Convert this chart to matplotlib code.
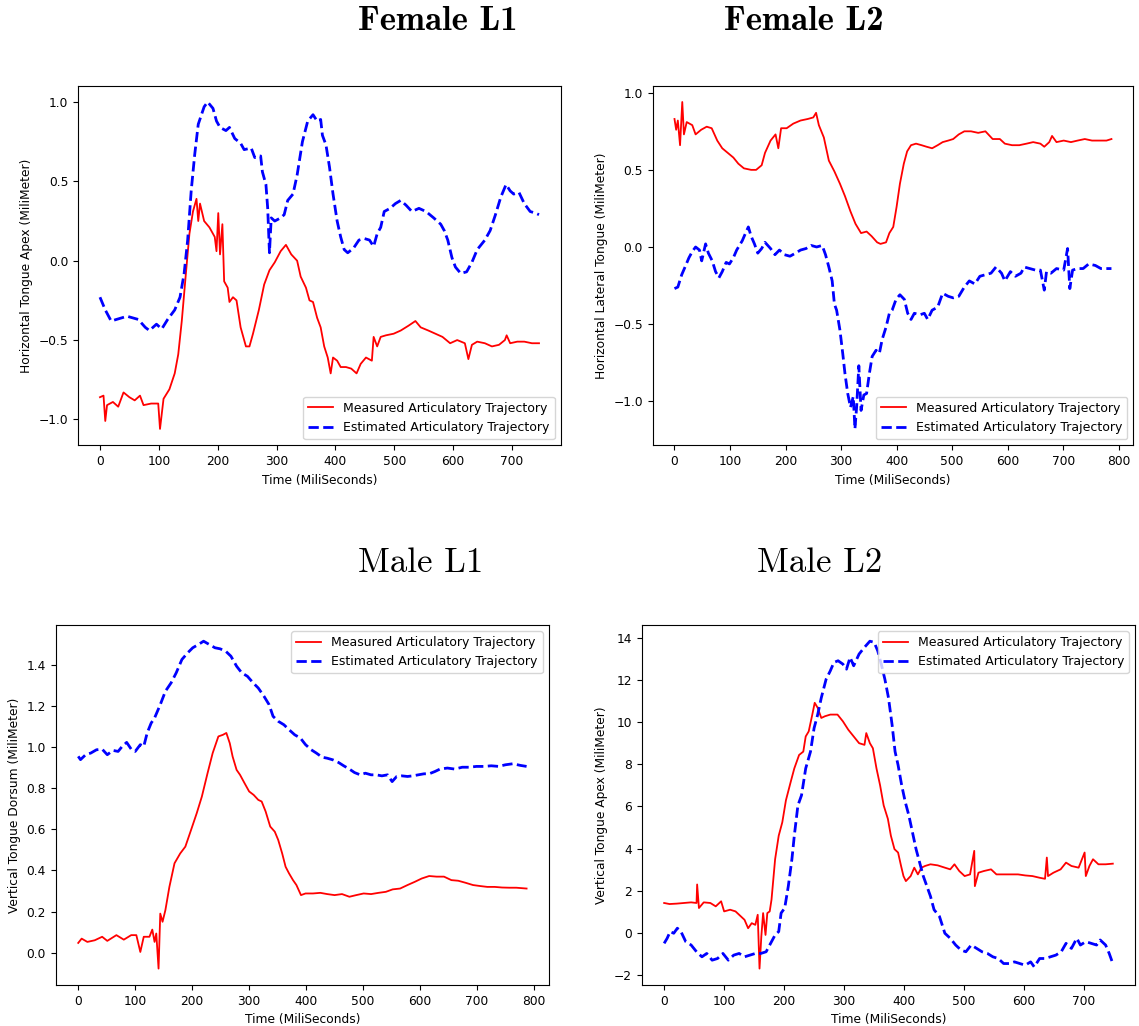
import matplotlib
matplotlib.use("Agg")
import matplotlib.pyplot as plt

plt.rcParams['font.size'] = 8.8

# ---- Female L1 : Horizontal Tongue Apex ----
fl1_meas_t = [0, 6, 9, 12, 22, 31, 40, 50, 59, 68, 74, 87, 99, 102, 108, 118, 127, 133, 139, 146,
              152, 158, 164, 167, 170, 177, 186, 195, 198, 201, 204, 208, 211, 217, 220, 226, 232, 239,
              248, 254, 260, 270, 279, 288, 297, 307, 316, 325, 335, 341, 350, 356, 362, 369, 375, 381,
              387, 392, 396, 403, 409, 418, 427, 436, 443, 452, 462, 465, 471, 477, 486, 499, 511, 524,
              536, 545, 558, 570, 582, 595, 607, 620, 626, 632, 641, 654, 666, 678, 688, 691, 697, 709,
              721, 734, 746]
fl1_meas_v = [-0.86, -0.85, -1.01, -0.91, -0.89, -0.92, -0.83, -0.86, -0.88, -0.85, -0.91, -0.90, -0.90,
              -1.06, -0.87, -0.81, -0.71, -0.59, -0.38, -0.08, 0.17, 0.31, 0.39, 0.25, 0.36, 0.25, 0.21,
              0.15, 0.06, 0.30, 0.04, 0.23, -0.13, -0.17, -0.26, -0.23, -0.25, -0.42, -0.54, -0.54, -0.46,
              -0.31, -0.15, -0.06, -0.01, 0.06, 0.10, 0.04, 0.00, -0.10, -0.17, -0.25, -0.26, -0.36, -0.42,
              -0.54, -0.61, -0.71, -0.61, -0.63, -0.67, -0.67, -0.68, -0.71, -0.65, -0.61, -0.63, -0.48,
              -0.54, -0.48, -0.47, -0.46, -0.44, -0.41, -0.38, -0.42, -0.44, -0.46, -0.48, -0.52, -0.50,
              -0.52, -0.62, -0.53, -0.51, -0.52, -0.54, -0.53, -0.50, -0.47, -0.52, -0.51, -0.51, -0.52,
              -0.52]
fl1_est_t = [0, 9, 19, 28, 46, 65, 77, 84, 96, 105, 115, 127, 136, 143, 149, 155, 161, 167, 177, 183,
             192, 198, 204, 214, 220, 229, 239, 245, 257, 263, 273, 276, 282, 285, 288, 291, 297, 307, 313,
             319, 328, 335, 344, 353, 362, 369, 375, 378, 384, 390, 396, 403, 409, 415, 421, 431, 440, 449,
             458, 465, 471, 477, 483, 493, 502, 511, 520, 530, 542, 554, 567, 579, 585, 591, 598, 604, 613,
             623, 632, 641, 654, 663, 672, 681, 690, 697, 703, 712, 721, 731, 740, 746]
fl1_est_v = [-0.23, -0.31, -0.38, -0.37, -0.35, -0.37, -0.42, -0.44, -0.40, -0.43, -0.37, -0.31, -0.23,
             -0.08, 0.13, 0.44, 0.67, 0.86, 0.97, 1.00, 0.96, 0.88, 0.84, 0.82, 0.84, 0.77, 0.74, 0.70, 0.71,
             0.65, 0.66, 0.56, 0.48, 0.33, 0.05, 0.27, 0.25, 0.27, 0.29, 0.38, 0.42, 0.54, 0.75, 0.88, 0.92,
             0.88, 0.89, 0.79, 0.73, 0.59, 0.42, 0.25, 0.15, 0.07, 0.05, 0.08, 0.13, 0.14, 0.13, 0.09, 0.17,
             0.21, 0.31, 0.33, 0.36, 0.38, 0.35, 0.31, 0.33, 0.31, 0.27, 0.23, 0.19, 0.13, 0.02, -0.04, -0.08,
             -0.07, -0.01, 0.07, 0.13, 0.19, 0.29, 0.40, 0.48, 0.44, 0.42, 0.43, 0.36, 0.31, 0.30, 0.29]

# ---- Female L2 : Horizontal Lateral Tongue ----
fl2_meas_t = [0, 3, 6, 10, 14, 17, 22, 32, 38, 48, 58, 67, 77, 86, 96, 106, 115, 125, 138, 147, 157,
              163, 173, 182, 187, 192, 202, 214, 227, 240, 250, 255, 260, 269, 278, 288, 298, 307, 317,
              326, 336, 346, 355, 365, 371, 381, 387, 394, 400, 406, 413, 419, 426, 435, 445, 454, 464,
              474, 483, 493, 502, 512, 522, 534, 547, 560, 573, 586, 595, 608, 621, 634, 646, 659, 666,
              675, 680, 688, 701, 714, 726, 739, 752, 765, 778, 787]
fl2_meas_v = [0.83, 0.76, 0.82, 0.66, 0.94, 0.73, 0.81, 0.79, 0.73, 0.76, 0.78, 0.77, 0.69, 0.64, 0.61,
              0.58, 0.54, 0.51, 0.50, 0.50, 0.53, 0.61, 0.69, 0.73, 0.64, 0.77, 0.77, 0.80, 0.82, 0.83,
              0.84, 0.87, 0.79, 0.71, 0.56, 0.49, 0.41, 0.33, 0.23, 0.15, 0.09, 0.10, 0.07, 0.03, 0.02,
              0.03, 0.09, 0.13, 0.26, 0.41, 0.54, 0.62, 0.66, 0.67, 0.66, 0.65, 0.64, 0.66, 0.68, 0.69,
              0.70, 0.73, 0.75, 0.75, 0.74, 0.75, 0.70, 0.70, 0.67, 0.66, 0.66, 0.67, 0.68, 0.67, 0.65,
              0.68, 0.72, 0.68, 0.69, 0.68, 0.69, 0.70, 0.69, 0.69, 0.69, 0.70]
fl2_est_t = [0, 6, 13, 19, 26, 32, 38, 45, 49, 56, 61, 68, 74, 80, 86, 93, 99, 106, 112, 122, 128, 133,
             138, 144, 150, 157, 163, 173, 181, 189, 198, 208, 218, 227, 237, 246, 256, 266, 272, 278,
             284, 288, 292, 298, 303, 307, 312, 317, 322, 325, 328, 332, 336, 341, 346, 351, 356, 363,
             369, 374, 381, 387, 392, 399, 406, 414, 420, 426, 432, 442, 450, 456, 464, 474, 483, 493,
             502, 512, 522, 531, 541, 550, 560, 570, 579, 589, 595, 605, 614, 624, 630, 640, 650, 659,
             666, 670, 678, 688, 701, 708, 712, 717, 726, 736, 746, 758, 768, 778, 787]
fl2_est_v = [-0.27, -0.26, -0.18, -0.13, -0.07, -0.03, 0.00, -0.02, -0.09, 0.02, -0.04, -0.09, -0.16,
             -0.20, -0.16, -0.10, -0.11, -0.07, -0.02, 0.04, 0.09, 0.13, 0.07, 0.02, -0.04, -0.01, 0.03,
             -0.01, -0.05, -0.02, -0.05, -0.06, -0.04, -0.02, -0.01, 0.01, 0.00, 0.01, -0.05, -0.13,
             -0.22, -0.37, -0.41, -0.54, -0.69, -0.82, -0.95, -1.04, -0.97, -1.18, -1.04, -0.77, -1.06,
             -0.96, -0.95, -0.82, -0.71, -0.67, -0.69, -0.60, -0.52, -0.43, -0.41, -0.34, -0.31, -0.34,
             -0.43, -0.47, -0.43, -0.44, -0.43, -0.47, -0.41, -0.39, -0.30, -0.32, -0.33, -0.32, -0.26,
             -0.22, -0.24, -0.19, -0.18, -0.17, -0.13, -0.17, -0.22, -0.16, -0.19, -0.17, -0.13, -0.14,
             -0.15, -0.15, -0.28, -0.16, -0.17, -0.14, -0.15, -0.01, -0.27, -0.15, -0.14, -0.14, -0.11,
             -0.12, -0.14, -0.14, -0.14]

# ---- Male L1 : Vertical Tongue Dorsum ----
ml1_meas_t = [0, 6, 16, 29, 42, 51, 67, 80, 93, 102, 109, 115, 125, 130, 134, 137, 141, 144, 148, 153,
              160, 169, 179, 188, 198, 208, 217, 227, 236, 246, 254, 260, 266, 271, 278, 284, 292, 300,
              308, 316, 322, 329, 337, 345, 351, 358, 364, 370, 377, 383, 391, 399, 412, 425, 437, 450,
              463, 476, 488, 501, 514, 527, 540, 552, 565, 578, 591, 603, 616, 629, 642, 655, 667, 680,
              693, 706, 718, 731, 744, 757, 769, 787]
ml1_meas_v = [0.047, 0.068, 0.052, 0.060, 0.077, 0.057, 0.085, 0.063, 0.085, 0.085, 0.003, 0.077, 0.077,
              0.112, 0.052, 0.093, -0.078, 0.190, 0.150, 0.207, 0.320, 0.435, 0.483, 0.516, 0.597, 0.679,
              0.760, 0.874, 0.972, 1.053, 1.061, 1.070, 1.020, 0.955, 0.890, 0.866, 0.825, 0.785, 0.768,
              0.744, 0.736, 0.687, 0.614, 0.589, 0.549, 0.483, 0.418, 0.386, 0.353, 0.329, 0.280, 0.288,
              0.288, 0.291, 0.285, 0.280, 0.285, 0.272, 0.280, 0.288, 0.285, 0.291, 0.296, 0.308, 0.312,
              0.329, 0.345, 0.361, 0.373, 0.370, 0.370, 0.353, 0.350, 0.340, 0.329, 0.324, 0.320, 0.320,
              0.317, 0.316, 0.316, 0.312]
ml1_est_t = [0, 4, 13, 22, 32, 42, 51, 61, 70, 77, 85, 93, 100, 109, 115, 121, 128, 134, 144, 153, 163,
             172, 182, 192, 201, 211, 220, 230, 240, 249, 259, 268, 278, 287, 297, 307, 316, 326, 335,
             342, 351, 361, 370, 380, 390, 399, 409, 418, 428, 437, 447, 457, 466, 476, 485, 495, 504,
             514, 523, 533, 543, 551, 559, 568, 578, 587, 597, 607, 616, 626, 635, 648, 661, 674, 686,
             699, 712, 725, 738, 750, 763, 776, 787]
ml1_est_v = [0.956, 0.940, 0.964, 0.972, 0.988, 0.991, 0.964, 0.985, 0.980, 1.004, 1.024, 0.991, 0.980,
             1.013, 1.004, 1.070, 1.118, 1.143, 1.208, 1.273, 1.314, 1.363, 1.428, 1.460, 1.485, 1.501,
             1.517, 1.501, 1.485, 1.480, 1.468, 1.444, 1.395, 1.363, 1.346, 1.314, 1.289, 1.249, 1.208,
             1.151, 1.127, 1.110, 1.086, 1.061, 1.045, 1.013, 0.988, 0.972, 0.952, 0.947, 0.939, 0.926,
             0.910, 0.894, 0.877, 0.866, 0.874, 0.866, 0.866, 0.861, 0.866, 0.833, 0.858, 0.861, 0.858,
             0.861, 0.866, 0.871, 0.871, 0.882, 0.894, 0.899, 0.894, 0.903, 0.903, 0.907, 0.907, 0.910,
             0.907, 0.915, 0.920, 0.912, 0.907]

# ---- Male L2 : Vertical Tongue Apex ----
ml2_meas_t = [0, 9, 21, 33, 45, 54, 55, 58, 66, 77, 86, 95, 100, 110, 119, 128, 134, 140, 146, 152, 156,
              159, 162, 165, 169, 172, 176, 179, 185, 191, 197, 203, 211, 217, 225, 232, 236, 241, 247,
              251, 256, 262, 268, 277, 289, 298, 307, 316, 325, 334, 337, 343, 348, 354, 360, 366, 373,
              378, 384, 390, 395, 399, 403, 411, 417, 423, 429, 435, 444, 456, 468, 477, 484, 492, 501,
              510, 517, 518, 524, 533, 545, 554, 566, 578, 590, 602, 614, 626, 635, 638, 640, 649, 661,
              670, 679, 691, 701, 703, 709, 715, 724, 736, 748]
ml2_meas_v = [1.41, 1.36, 1.38, 1.41, 1.44, 1.41, 2.29, 1.17, 1.44, 1.41, 1.25, 1.49, 1.01, 1.09, 1.01,
              0.77, 0.61, 0.21, 0.45, 0.37, 0.85, -1.71, -0.19, 0.93, -0.11, 0.93, 1.01, 1.57, 3.49, 4.61,
              5.25, 6.29, 7.17, 7.81, 8.45, 8.61, 9.33, 9.57, 10.37, 10.93, 10.69, 10.21, 10.29, 10.37,
              10.37, 10.05, 9.65, 9.33, 9.01, 8.93, 9.49, 9.01, 8.77, 7.81, 7.01, 6.05, 5.41, 4.61, 3.97,
              3.81, 3.17, 2.69, 2.45, 2.69, 3.09, 2.77, 3.09, 3.17, 3.25, 3.20, 3.09, 3.01, 3.25, 2.93,
              2.69, 2.77, 3.89, 2.21, 2.85, 2.93, 3.01, 2.77, 2.77, 2.77, 2.77, 2.72, 2.69, 2.61, 2.56,
              3.57, 2.69, 2.85, 3.01, 3.33, 3.17, 3.09, 3.81, 2.69, 3.17, 3.49, 3.25, 3.25, 3.28]
ml2_est_t = [0, 5, 10, 16, 22, 28, 36, 45, 54, 63, 71, 80, 89, 98, 107, 116, 125, 134, 143, 152, 161,
             170, 176, 185, 191, 195, 201, 207, 213, 217, 223, 229, 236, 244, 250, 256, 262, 270, 277,
             283, 290, 298, 304, 310, 316, 325, 334, 343, 350, 356, 362, 368, 374, 380, 385, 390, 396,
             402, 408, 414, 420, 426, 432, 438, 444, 450, 459, 468, 477, 486, 495, 503, 512, 521, 530,
             539, 548, 557, 566, 575, 584, 593, 602, 611, 617, 626, 635, 644, 653, 662, 670, 679, 688,
             694, 703, 712, 721, 727, 736, 742, 748]
ml2_est_v = [-0.51, -0.27, 0.05, -0.03, 0.21, 0.05, -0.43, -0.59, -0.91, -1.15, -0.99, -1.31, -1.23,
             -0.99, -1.31, -1.07, -0.99, -1.15, -1.07, -0.99, -0.99, -0.91, -0.59, -0.11, 0.05, 0.93,
             1.17, 2.21, 3.49, 4.61, 6.05, 6.53, 7.81, 8.61, 9.73, 10.37, 11.17, 12.05, 12.45, 12.85,
             12.93, 12.77, 12.53, 13.09, 12.69, 13.25, 13.57, 13.86, 13.81, 13.41, 12.77, 12.05, 11.17,
             9.89, 8.61, 7.97, 7.01, 6.21, 5.57, 4.77, 3.97, 3.33, 2.69, 2.21, 1.73, 1.09, 0.77, -0.03,
             -0.27, -0.59, -0.83, -0.91, -0.59, -0.75, -0.91, -0.99, -1.15, -1.23, -1.47, -1.47, -1.39,
             -1.47, -1.55, -1.39, -1.63, -1.23, -1.23, -1.15, -1.07, -0.91, -0.51, -0.75, -0.27, -0.59,
             -0.43, -0.51, -0.59, -0.35, -0.59, -0.99, -1.47]

titles = ['Female L1', 'Female L2', 'Male L1', 'Male L2']
title_fonts = ['cmb10', 'cmb10', 'cmr10', 'cmr10']   # computer modern bold / roman
ylabels = ['Horizontal Tongue Apex (MiliMeter)', 'Horizontal Lateral Tongue (MiliMeter)',
           'Vertical Tongue Dorsum (MiliMeter)', 'Vertical Tongue Apex (MiliMeter)']
xlabel = 'Time (MiliSeconds)'
legend_labels = ['Measured Articulatory Trajectory', 'Estimated Articulatory Trajectory']

panels = [(fl1_meas_t, fl1_meas_v, fl1_est_t, fl1_est_v),
          (fl2_meas_t, fl2_meas_v, fl2_est_t, fl2_est_v),
          (ml1_meas_t, ml1_meas_v, ml1_est_t, ml1_est_v),
          (ml2_meas_t, ml2_meas_v, ml2_est_t, ml2_est_v)]

# layout of the four panels (figure fractions) and where their titles sit
axes_pos = [[0.0685, 0.566, 0.424, 0.3505],
            [0.573, 0.566, 0.422, 0.3505],
            [0.049, 0.040, 0.433, 0.351],
            [0.5634, 0.040, 0.4333, 0.351]]
title_pos = [(0.384, 0.979), (0.706, 0.979), (0.369, 0.451), (0.720, 0.451)]
legend_loc = ['lower right', 'lower right', 'upper right', 'upper right']

fig = plt.figure(figsize=(11.39, 10.26), dpi=100)

for i in range(4):
    mt, mv, et, ev = panels[i]
    ax = fig.add_axes(axes_pos[i])
    ax.plot(mt, mv, color='red', linewidth=1.3, label=legend_labels[0])
    ax.plot(et, ev, color='blue', linestyle='--', linewidth=2.0, label=legend_labels[1])
    ax.set_xlabel(xlabel)
    ax.set_ylabel(ylabels[i])
    ax.legend(loc=legend_loc[i], fontsize=9)
    fig.text(title_pos[i][0], title_pos[i][1], titles[i], ha='center', va='center',
             fontsize=25, family=title_fonts[i])

fig.savefig('out.png', dpi=100)
